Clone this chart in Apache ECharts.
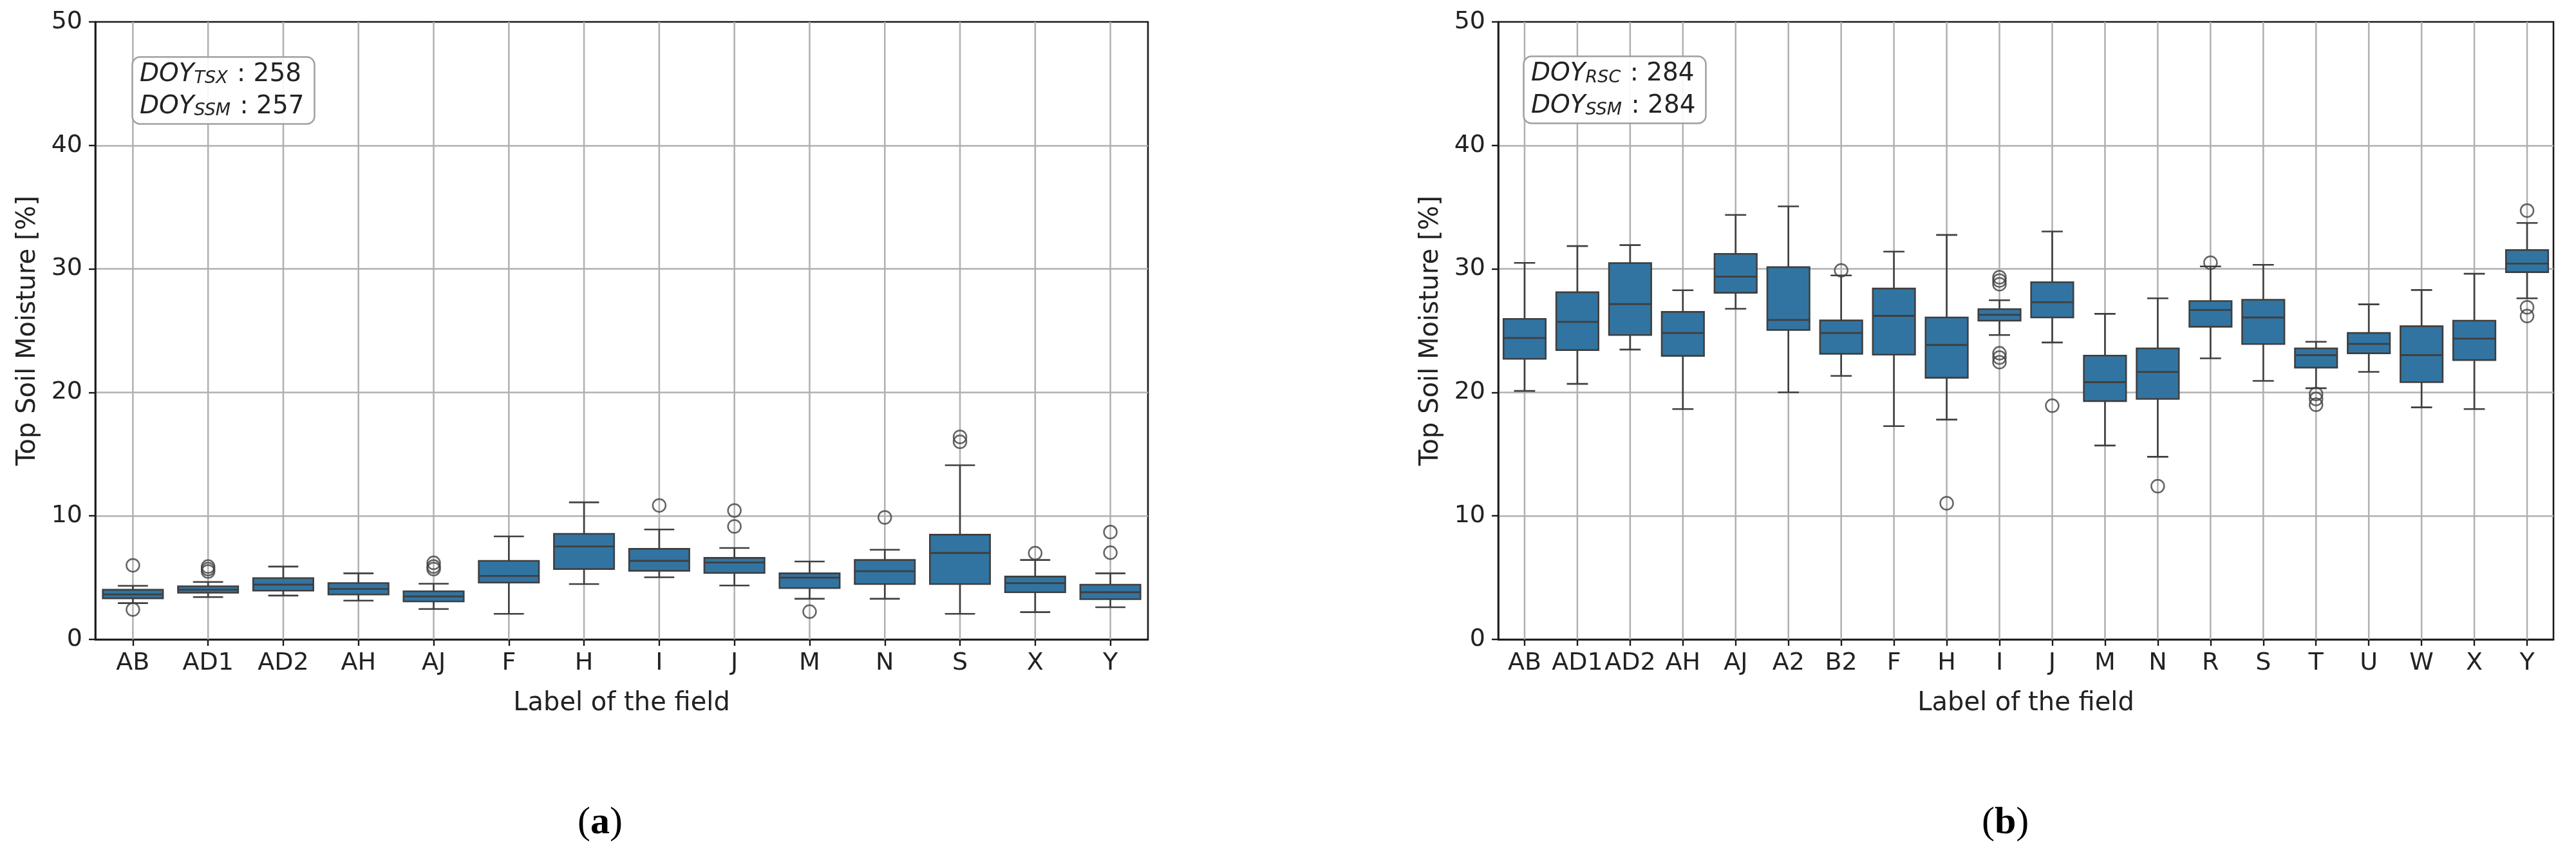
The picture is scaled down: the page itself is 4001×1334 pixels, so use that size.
<!DOCTYPE html>
<html>
<head>
<meta charset="utf-8">
<script src="https://cdn.jsdelivr.net/npm/echarts@6/dist/echarts.min.js"></script>
<style>
  html, body { margin: 0; padding: 0; background: #fff; }
  #chart { width: 4001px; height: 1334px; }
</style>
</head>
<body>
<div id="chart"></div>
<script>
// (a) TSX, DOY 258 / 257
const fieldsA = ['AB', 'AD1', 'AD2', 'AH', 'AJ', 'F', 'H', 'I', 'J', 'M', 'N', 'S', 'X', 'Y'];
const lowA = [2.94, 3.43, 3.55, 3.14, 2.46, 2.07, 4.48, 5.03, 4.37, 3.29, 3.29, 2.07, 2.21, 2.61];
const q1A = [3.33, 3.78, 3.95, 3.64, 3.08, 4.60, 5.70, 5.56, 5.38, 4.16, 4.48, 4.48, 3.82, 3.26];
const medA = [3.64, 4.02, 4.44, 4.09, 3.48, 5.14, 7.53, 6.36, 6.22, 5.00, 5.52, 7.00, 4.56, 3.82];
const q3A = [4.02, 4.30, 4.97, 4.56, 3.90, 6.36, 8.55, 7.33, 6.60, 5.35, 6.43, 8.48, 5.09, 4.43];
const highA = [4.34, 4.65, 5.90, 5.35, 4.51, 8.34, 11.1, 8.90, 7.40, 6.31, 7.26, 14.1, 6.43, 5.35];
const outliersA = [
  ['AB', 6.0], ['AB', 2.42],
  ['AD1', 5.9], ['AD1', 5.7], ['AD1', 5.5],
  ['AJ', 6.2], ['AJ', 5.9], ['AJ', 5.7],
  ['I', 10.85],
  ['J', 10.44], ['J', 9.15],
  ['M', 2.25],
  ['N', 9.88],
  ['S', 16.4], ['S', 16.0],
  ['X', 6.99],
  ['Y', 8.69], ['Y', 7.02]
];

// (b) RSC, DOY 284 / 284
const fieldsB = ['AB', 'AD1', 'AD2', 'AH', 'AJ', 'A2', 'B2', 'F', 'H', 'I', 'J', 'M', 'N', 'R', 'S', 'T', 'U', 'W', 'X', 'Y'];
const lowB = [20.12, 20.69, 23.47, 18.65, 26.77, 20.01, 21.34, 17.27, 17.80, 24.65, 24.04, 15.70, 14.79, 22.76, 20.93, 20.34, 21.66, 18.79, 18.65, 27.62];
const q1B = [22.72, 23.43, 24.65, 22.96, 28.07, 25.06, 23.13, 23.06, 21.19, 25.81, 26.07, 19.30, 19.47, 25.32, 23.92, 22.01, 23.17, 20.83, 22.62, 29.74];
const medB = [24.41, 25.71, 27.15, 24.81, 29.37, 25.87, 24.81, 26.20, 23.84, 26.28, 27.30, 20.83, 21.66, 26.68, 26.07, 23.02, 23.92, 23.02, 24.35, 30.43];
const q3B = [25.95, 28.11, 30.47, 26.52, 31.22, 30.14, 25.83, 28.41, 26.07, 26.75, 28.92, 22.98, 23.57, 27.40, 27.50, 23.57, 24.81, 25.36, 25.81, 31.53];
const highB = [30.49, 31.85, 31.93, 28.27, 34.37, 35.06, 29.47, 31.40, 32.75, 27.46, 33.03, 26.36, 27.62, 30.20, 30.33, 24.10, 27.13, 28.29, 29.61, 33.72];
const outliersB = [
  ['B2', 29.88],
  ['H', 11.03],
  ['I', 29.33], ['I', 29.06], ['I', 28.76], ['I', 23.17], ['I', 22.82], ['I', 22.45],
  ['J', 18.92],
  ['N', 12.41],
  ['R', 30.5],
  ['T', 19.87], ['T', 19.47], ['T', 19.0],
  ['Y', 34.72], ['Y', 26.89], ['Y', 26.18]
];

const yTicks = [0, 10, 20, 30, 40, 50];

const BOX_FILL = '#3274a1';
const EDGE = '#3f3f3f';
const GRID_LINE = '#b0b0b0';
const AXIS_COLOR = '#1a1a1a';
const FONT = 'DejaVu Sans';

function boxRows(low, q1, med, q3, high) {
  return low.map((v, i) => [i, v, q1[i], med[i], q3[i], high[i]]);
}

// seaborn-like box: grid line, whiskers, half-width caps, box, median
function renderBox(params, api) {
  const i = api.value(0);
  const band = api.size([1, 0])[0];
  const half = band * 0.4;
  const cap = band * 0.2;
  const x = api.coord([i, 0])[0];
  const y = v => api.coord([i, v])[1];
  const yLow = y(api.value(1));
  const yQ1 = y(api.value(2));
  const yMed = y(api.value(3));
  const yQ3 = y(api.value(4));
  const yHigh = y(api.value(5));
  const top = y(yTicks[yTicks.length - 1]);
  const bottom = y(yTicks[0]);
  const edge = { stroke: EDGE, lineWidth: 2.6, fill: null };
  return {
    type: 'group',
    children: [
      { type: 'line', shape: { x1: x, y1: top, x2: x, y2: bottom }, style: { stroke: GRID_LINE, lineWidth: 2.5 }, silent: true },
      { type: 'line', shape: { x1: x, y1: yQ1, x2: x, y2: yLow }, style: edge },
      { type: 'line', shape: { x1: x, y1: yQ3, x2: x, y2: yHigh }, style: edge },
      { type: 'line', shape: { x1: x - cap, y1: yLow, x2: x + cap, y2: yLow }, style: edge },
      { type: 'line', shape: { x1: x - cap, y1: yHigh, x2: x + cap, y2: yHigh }, style: edge },
      { type: 'rect', shape: { x: x - half, y: yQ3, width: half * 2, height: yQ1 - yQ3 }, style: { fill: BOX_FILL, stroke: EDGE, lineWidth: 2.6 } },
      { type: 'line', shape: { x1: x - half, y1: yMed, x2: x + half, y2: yMed }, style: { stroke: EDGE, lineWidth: 2.8 } }
    ]
  };
}

function makeYAxis(gridIndex) {
  return {
    type: 'value', gridIndex, min: 0, max: 50, interval: 10,
    name: 'Top Soil Moisture [%]', nameLocation: 'middle', nameGap: 84,
    nameTextStyle: { fontFamily: FONT, fontSize: 40, color: '#222' },
    axisLine: { show: true, lineStyle: { color: AXIS_COLOR, width: 2.6 } },
    axisTick: { show: true, length: 10, lineStyle: { color: AXIS_COLOR, width: 2.4 } },
    axisLabel: { fontFamily: FONT, fontSize: 38, color: '#222', margin: 20 },
    splitLine: { show: true, showMinLine: false, showMaxLine: false, lineStyle: { color: GRID_LINE, width: 2.5 } }
  };
}

function makeXAxis(gridIndex, fields) {
  return {
    type: 'category', gridIndex, data: fields,
    name: 'Label of the field', nameLocation: 'middle', nameGap: 80,
    nameTextStyle: { fontFamily: FONT, fontSize: 40, color: '#222', verticalAlign: 'top' },
    axisLine: { show: true, lineStyle: { color: AXIS_COLOR, width: 2.6 } },
    axisTick: { show: true, alignWithLabel: true, length: 10, lineStyle: { color: AXIS_COLOR, width: 2.4 } },
    axisLabel: { fontFamily: FONT, fontSize: 38, color: '#222', margin: 18, interval: 0 },
    splitLine: { show: false }
  };
}

function doyBox(left, top, sat, a, b) {
  const base = { fontFamily: FONT, fontWeight: 'normal', color: '#222', lineHeight: 50, verticalAlign: 'bottom' };
  return {
    left, top,
    text: `{i|DOY}{s|${sat}}{n| : ${a}}\n{i|DOY}{s|SSM}{n| : ${b}}`,
    backgroundColor: 'rgba(255,255,255,0.9)',
    borderColor: '#a0a0a0', borderWidth: 2.5, borderRadius: 12,
    padding: [8, 16, 8, 12],
    textStyle: {
      fontWeight: 'normal',
      rich: {
        i: Object.assign({}, base, { fontStyle: 'italic', fontSize: 39 }),
        s: Object.assign({}, base, { fontStyle: 'italic', fontSize: 27, padding: [0, 2, 0, 0] }),
        n: Object.assign({}, base, { fontSize: 39 })
      }
    }
  };
}

function outlierSeries(idx, data) {
  return {
    type: 'scatter', xAxisIndex: idx, yAxisIndex: idx, data,
    symbol: 'circle', symbolSize: 20, z: 5,
    itemStyle: { color: 'rgba(0,0,0,0)', borderColor: EDGE, borderWidth: 2.5 }
  };
}

const chart = echarts.init(document.getElementById('chart'), null, { renderer: 'canvas' });
chart.setOption({
  backgroundColor: '#fff',
  animation: false,
  grid: [
    { left: 148, right: 4001 - 1783, top: 34, bottom: 1334 - 993, show: true, borderColor: AXIS_COLOR, borderWidth: 2.6 },
    { left: 2327, right: 4001 - 3966, top: 34, bottom: 1334 - 993, show: true, borderColor: AXIS_COLOR, borderWidth: 2.6 }
  ],
  xAxis: [makeXAxis(0, fieldsA), makeXAxis(1, fieldsB)],
  yAxis: [makeYAxis(0), makeYAxis(1)],
  title: [doyBox(205, 77, 'TSX', 258, 257), doyBox(2366, 76, 'RSC', 284, 284)],
  graphic: [
    { type: 'text', left: 927 - 30, top: 1248, style: { text: '{p|(}{b|a}{p|)}', rich: { p: { fontFamily: 'Liberation Serif', fontSize: 60, fill: '#000' }, b: { fontFamily: 'Liberation Serif', fontWeight: 'bold', fontSize: 60, fill: '#000' } } } },
    { type: 'text', left: 3108 - 30, top: 1248, style: { text: '{p|(}{b|b}{p|)}', rich: { p: { fontFamily: 'Liberation Serif', fontSize: 60, fill: '#000' }, b: { fontFamily: 'Liberation Serif', fontWeight: 'bold', fontSize: 60, fill: '#000' } } } }
  ],
  series: [
    {
      type: 'custom', xAxisIndex: 0, yAxisIndex: 0,
      data: boxRows(lowA, q1A, medA, q3A, highA),
      encode: { x: 0, y: [1, 2, 3, 4, 5] },
      renderItem: renderBox, z: 3
    },
    {
      type: 'custom', xAxisIndex: 1, yAxisIndex: 1,
      data: boxRows(lowB, q1B, medB, q3B, highB),
      encode: { x: 0, y: [1, 2, 3, 4, 5] },
      renderItem: renderBox, z: 3
    },
    outlierSeries(0, outliersA),
    outlierSeries(1, outliersB)
  ]
});
</script>
</body>
</html>
